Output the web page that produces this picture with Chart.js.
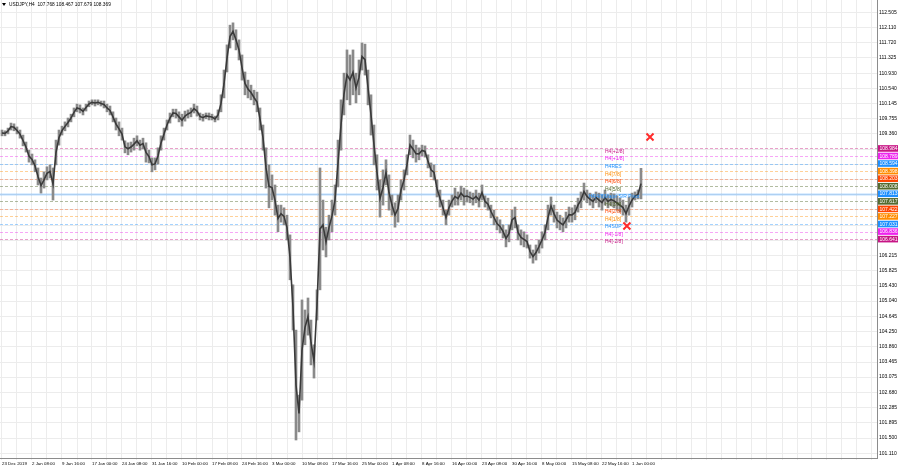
<!DOCTYPE html>
<html>
<head>
<meta charset="utf-8">
<script src="https://cdn.jsdelivr.net/npm/chart.js@4.4.1/dist/chart.umd.min.js"></script>
<style>
html, body { margin: 0; padding: 0; background: #fff; }
canvas { display: block; }
</style>
</head>
<body>
<canvas id="chart" width="900" height="470"></canvas>
<script>
// Symbol header
const symbolInfo = 'USDJPY,H4  107.768 108.467 107.679 108.369';

// Time axis labels (one every 10 bars)
const dateLabels = ['23 Dec 2019', '2 Jan 08:00', '9 Jan 16:00', '17 Jan 00:00', '24 Jan 08:00',
    '31 Jan 16:00', '10 Feb 00:00', '17 Feb 08:00', '24 Feb 16:00', '3 Mar 00:00', '10 Mar 08:00',
    '17 Mar 16:00', '25 Mar 00:00', '1 Apr 08:00', '8 Apr 16:00', '16 Apr 00:00', '23 Apr 08:00',
    '30 Apr 16:00', '8 May 00:00', '15 May 08:00', '22 May 16:00', '1 Jun 00:00'];

// Price axis ticks
const priceTicks = [112.505, 112.110, 111.720, 111.325, 110.930, 110.540, 110.145, 109.755, 109.360,
    108.965, 108.575, 108.180, 107.790, 107.395, 107.000, 106.610, 106.215, 105.825, 105.430,
    105.040, 104.645, 104.250, 103.860, 103.465, 103.075, 102.680, 102.285, 101.895, 101.500, 101.110];

// Price bars (high / low)
const highs = [
    109.46, 109.44, 109.51, 109.64, 109.62, 109.54, 109.46, 109.33, 109.15, 108.94,
    108.84, 108.69, 108.48, 108.22, 108.38, 108.51, 108.56, 108.48, 109.20, 109.46,
    109.56, 109.67, 109.77, 109.87, 110.03, 110.13, 110.11, 110.03, 110.13, 110.21,
    110.24, 110.24, 110.24, 110.21, 110.21, 110.13, 110.08, 109.93, 109.77, 109.67,
    109.51, 109.18, 109.13, 109.15, 109.25, 109.31, 109.20, 109.25, 109.13, 108.94,
    108.74, 108.74, 109.00, 109.31, 109.51, 109.72, 109.90, 110.00, 110.00, 109.93,
    109.87, 109.95, 109.98, 110.03, 110.13, 110.08, 109.90, 109.87, 109.90, 109.90,
    109.87, 109.82, 109.98, 110.37, 111.01, 111.66, 112.17, 112.23, 112.05, 111.79,
    111.40, 110.96, 110.75, 110.62, 110.49, 110.44, 110.03, 109.59, 109.00, 108.56,
    108.30, 108.04, 107.52, 107.52, 107.45, 107.26, 106.75, 105.46, 104.29, 102.61,
    105.07, 104.81, 105.12, 104.55, 103.91, 105.33, 108.48, 107.65, 106.95, 107.26,
    107.65, 108.04, 109.20, 110.24, 110.93, 111.53, 111.40, 111.53, 110.93, 111.27,
    111.71, 111.68, 111.01, 110.37, 109.59, 108.82, 108.17, 108.43, 108.69, 108.30,
    107.78, 107.58, 107.78, 108.17, 108.43, 108.82, 109.33, 109.20, 109.07, 109.00,
    109.07, 109.05, 108.82, 108.61, 108.56, 108.17, 107.91, 107.65, 107.39, 107.65,
    107.78, 107.96, 107.86, 108.01, 107.96, 107.91, 107.86, 107.83, 107.91, 107.83,
    108.04, 107.76, 107.70, 107.52, 107.39, 107.21, 107.14, 107.01, 106.88, 107.01,
    107.39, 107.47, 107.01, 106.88, 106.83, 106.75, 106.49, 106.36, 106.49, 106.62,
    106.83, 107.01, 107.52, 107.73, 107.52, 107.34, 107.26, 107.19, 107.34, 107.47,
    107.45, 107.52, 107.70, 107.86, 108.09, 107.91, 107.83, 107.78, 107.86, 107.83,
    107.78, 107.91, 107.78, 107.83, 107.81, 107.76, 107.70, 107.65, 107.52, 107.73,
    107.83, 107.86, 107.91, 108.47];
const lows = [
    109.31, 109.31, 109.36, 109.46, 109.44, 109.36, 109.25, 109.05, 108.89, 108.63,
    108.56, 108.38, 108.04, 107.83, 107.96, 108.17, 108.22, 107.65, 108.56, 109.07,
    109.33, 109.44, 109.54, 109.67, 109.80, 109.93, 109.90, 109.85, 109.95, 110.06,
    110.11, 110.08, 110.11, 110.08, 110.03, 109.93, 109.85, 109.67, 109.46, 109.31,
    109.20, 108.87, 108.82, 108.89, 108.94, 109.05, 108.94, 108.97, 108.63, 108.61,
    108.38, 108.43, 108.58, 108.94, 109.20, 109.46, 109.64, 109.80, 109.77, 109.67,
    109.56, 109.69, 109.77, 109.80, 109.90, 109.82, 109.72, 109.69, 109.75, 109.72,
    109.72, 109.67, 109.72, 109.93, 110.29, 110.96, 111.58, 111.79, 111.53, 111.27,
    110.75, 110.37, 110.29, 110.24, 110.11, 109.93, 109.46, 108.94, 107.96, 107.45,
    107.65, 107.26, 106.83, 107.08, 107.01, 106.62, 105.59, 104.29, 101.45, 101.66,
    102.48, 103.91, 104.16, 103.39, 103.05, 104.55, 105.33, 106.36, 106.18, 106.62,
    106.83, 107.26, 107.99, 108.94, 109.85, 110.24, 110.11, 110.37, 110.16, 110.37,
    111.01, 110.88, 110.11, 109.33, 108.56, 107.91, 107.21, 107.52, 108.04, 107.39,
    107.26, 106.95, 107.08, 107.65, 107.91, 108.30, 108.82, 108.74, 108.63, 108.69,
    108.79, 108.76, 108.48, 108.25, 108.17, 107.73, 107.47, 107.26, 107.01, 107.26,
    107.47, 107.52, 107.52, 107.65, 107.52, 107.60, 107.58, 107.52, 107.58, 107.47,
    107.65, 107.47, 107.39, 107.19, 107.01, 106.88, 106.80, 106.67, 106.44, 106.57,
    106.88, 106.93, 106.62, 106.49, 106.44, 106.41, 106.15, 106.02, 106.10, 106.28,
    106.41, 106.62, 106.88, 107.26, 107.08, 106.93, 106.88, 106.83, 106.93, 107.08,
    107.08, 107.14, 107.34, 107.45, 107.65, 107.58, 107.52, 107.45, 107.58, 107.47,
    107.39, 107.52, 107.45, 107.50, 107.45, 107.39, 107.34, 107.26, 107.08, 107.26,
    107.47, 107.65, 107.68, 107.68];

// Murrey levels
const levelPrices = [108.984, 108.789, 108.594, 108.398, 108.203, 108.008, 107.813,
    107.617, 107.422, 107.227, 107.031, 106.836, 106.641];
const levelNames = ['H4[+2/8]', 'H4[+1/8]', 'H4RES', 'H4[7/8]', 'H4[6/8]', 'H4[5/8]',
    'H4[4/8]Major S/R Pivot', 'H4[3/8]', 'H4[2/8]', 'H4[1/8]', 'H4SUP', 'H4[-1/8]', 'H4[-2/8]'];

// Signal crosses
const markX = [216, 208.3];
const markY = [109.28, 106.98];

const levelColors = ['#c71585', '#ee22ee', '#1e90ff', '#ff8c00', '#ff4500', '#556b2f', '#1e90ff',
    '#556b2f', '#ff4500', '#ff8c00', '#1e90ff', '#ee22ee', '#c71585'];
const lineColors = ['rgba(214,80,160,0.55)', 'rgba(238,60,238,0.45)', 'rgba(30,144,255,0.4)',
    'rgba(255,140,0,0.4)', 'rgba(255,69,0,0.35)', 'rgba(85,107,47,0.45)', 'rgba(30,144,255,0.3)',
    'rgba(85,107,47,0.45)', 'rgba(255,69,0,0.35)', 'rgba(255,140,0,0.4)', 'rgba(30,144,255,0.4)',
    'rgba(238,60,238,0.45)', 'rgba(214,80,160,0.55)'];

const FONT = 'Liberation Sans';

const levelsPlugin = {
    id: 'levels',
    beforeDatasetsDraw(chart) {
        const { ctx, chartArea: a, scales: { y } } = chart;
        ctx.save();
        levelPrices.forEach((p, i) => {
            const py = Math.round(y.getPixelForValue(p)) + 0.5;
            ctx.strokeStyle = lineColors[i];
            if (i === 6) {
                ctx.setLineDash([]);
                ctx.lineWidth = 2;
            } else {
                ctx.setLineDash([3, 2]);
                ctx.lineWidth = 1;
            }
            ctx.beginPath();
            ctx.moveTo(a.left, py);
            ctx.lineTo(a.right, py);
            ctx.stroke();
        });
        ctx.restore();
    },
    afterDatasetsDraw(chart) {
        const { ctx, scales: { x, y } } = chart;
        ctx.save();
        ctx.font = '5px ' + FONT;
        ctx.textBaseline = 'middle';
        levelPrices.forEach((p, i) => {
            const tx = x.getPixelForValue(i === 6 ? 195.5 : 201);
            ctx.fillStyle = levelColors[i];
            ctx.fillText(levelNames[i], tx, y.getPixelForValue(p) + 3);
        });
        ctx.restore();
    },
    afterDraw(chart) {
        const { ctx, chartArea: a, scales: { y } } = chart;
        ctx.save();
        ctx.font = '5px ' + FONT;
        ctx.textBaseline = 'middle';
        levelPrices.forEach((p, i) => {
            const py = y.getPixelForValue(p);
            ctx.fillStyle = levelColors[i];
            ctx.fillRect(a.right + 1, py - 3.3, 20, 6.6);
            ctx.fillStyle = '#fff';
            ctx.fillText(p.toFixed(3), a.right + 2.5, py + 0.3);
        });
        // header
        ctx.fillStyle = '#000';
        ctx.beginPath();
        ctx.moveTo(2, 3);
        ctx.lineTo(6, 3);
        ctx.lineTo(4, 6);
        ctx.closePath();
        ctx.fill();
        ctx.font = '4.8px ' + FONT;
        ctx.fillText(symbolInfo, 9, 5);
        ctx.restore();
    }
};

const ctx = document.getElementById('chart').getContext('2d');
new Chart(ctx, {
    type: 'bar',
    data: {
        datasets: [{
            type: 'line',
            data: markX.map((mx, i) => ({ x: mx, y: markY[i] })),
            showLine: false,
            pointStyle: 'crossRot',
            pointRadius: 5,
            pointBorderWidth: 2,
            borderColor: '#ff2b2b',
            backgroundColor: '#ff2b2b',
            order: 0
        }, {
            // dark trace through the middle of each bar
            type: 'line',
            data: lows.map((lo, i) => ({ x: i, y: (lo + highs[i]) / 2 })),
            borderColor: '#3a3a3a',
            borderWidth: 1.6,
            pointRadius: 0,
            tension: 0,
            order: 1
        }, {
            type: 'bar',
            data: lows.map((lo, i) => ({ x: i, y: [lo, highs[i]] })),
            backgroundColor: '#8a8a8a',
            barThickness: 2,
            borderWidth: 0,
            grouped: false,
            order: 2
        }]
    },
    options: {
        responsive: false,
        animation: false,
        devicePixelRatio: 1,
        events: [],
        layout: { padding: 0, autoPadding: false },
        plugins: { legend: { display: false }, tooltip: { enabled: false } },
        scales: {
            x: {
                type: 'linear',
                offset: false,
                min: -2 / 3,
                max: 875 / 3,
                afterBuildTicks: s => {
                    s.ticks = [];
                    for (let v = 0; v <= 290; v += 5) s.ticks.push({ value: v });
                },
                afterFit: s => { s.height = 12; s.paddingLeft = 0; s.paddingRight = 0; },
                ticks: {
                    autoSkip: false, maxRotation: 0, align: 'start', padding: 1,
                    font: { size: 4.4, family: FONT }, color: '#000',
                    callback: v => (v % 10 === 0 && v / 10 < dateLabels.length) ? dateLabels[v / 10] : ''
                },
                grid: { color: '#ececec', offset: false, tickLength: 2 },
                border: { color: '#8c8c8c' }
            },
            y: {
                position: 'right',
                min: 100.985,
                max: 112.82,
                afterBuildTicks: s => { s.ticks = priceTicks.map(v => ({ value: v })); },
                afterFit: s => { s.width = 23; s.paddingTop = 0; s.paddingBottom = 0; },
                ticks: {
                    padding: 2, font: { size: 5, family: FONT }, color: '#000',
                    callback: v => (v > 106.5 && v < 109.1) ? '' : v.toFixed(3)
                },
                grid: { color: '#ececec', drawTicks: false },
                border: { color: '#8c8c8c' }
            }
        }
    },
    plugins: [levelsPlugin]
});
</script>
</body>
</html>
